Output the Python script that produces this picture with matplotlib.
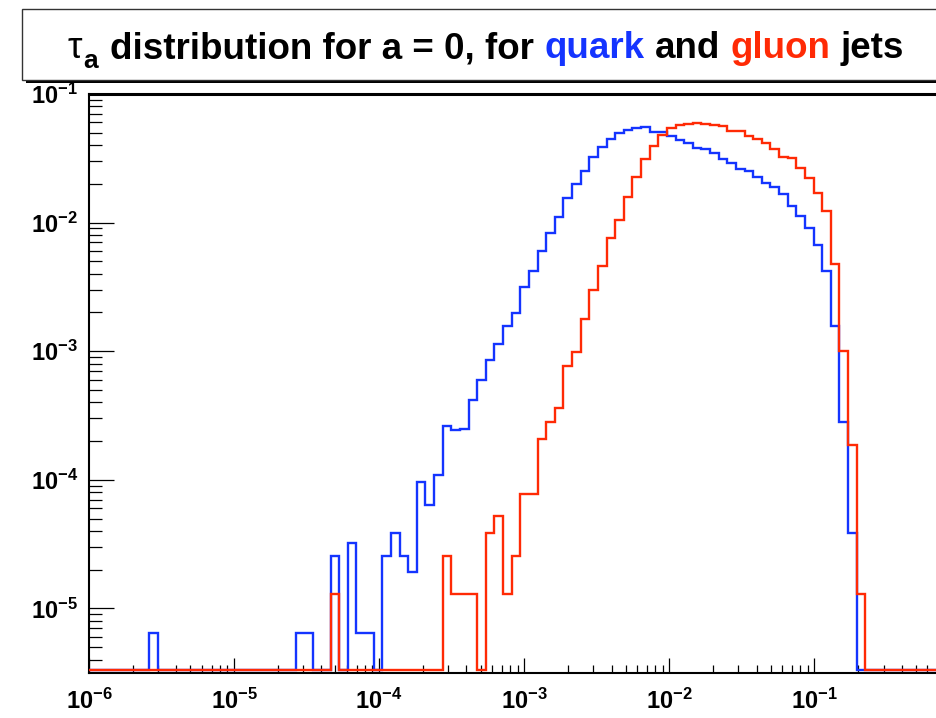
import numpy as np
import matplotlib
matplotlib.use('Agg')
import matplotlib.pyplot as plt
from matplotlib.patches import Rectangle
from matplotlib.ticker import LogLocator, FuncFormatter, NullFormatter

plt.rcParams['font.family'] = ['Liberation Sans', 'DejaVu Sans']
plt.rcParams['mathtext.fontset'] = 'custom'
plt.rcParams['mathtext.rm'] = 'Liberation Sans'
plt.rcParams['mathtext.bf'] = 'Liberation Sans:bold'
plt.rcParams['mathtext.it'] = 'Liberation Sans:italic'

W, H = 937, 718          # canvas in pixels (dpi 100)
BLUE = '#1434ff'
RED = '#ff2a05'

# tau_a histogram: 100 log-spaced bins starting at 1e-6
LOG_TAU_MIN = -6.0
BIN_DEX = 0.05946
N_BINS = 100

# normalised bin contents, quark jets
quark = [
    0, 0, 0, 0, 0, 0, 0, 6.4e-6, 0, 0,
    0, 0, 0, 0, 0, 0, 0, 0, 0, 0,
    0, 0, 0, 0, 6.4e-6, 6.4e-6, 0, 0, 2.56e-5, 0,
    3.2e-5, 6.4e-6, 6.4e-6, 0, 2.56e-5, 3.84e-5, 2.56e-5, 1.92e-5, 9.6e-5, 6.4e-5,
    1.09e-4, 2.64e-4, 2.46e-4, 2.5e-4, 4.2e-4, 6.0e-4, 8.6e-4, 1.14e-3, 1.56e-3, 1.98e-3,
    3.15e-3, 4.22e-3, 5.96e-3, 8.27e-3, 1.11e-2, 1.55e-2, 1.99e-2, 2.52e-2, 3.25e-2, 3.85e-2,
    4.44e-2, 4.94e-2, 5.25e-2, 5.41e-2, 5.5e-2, 5.09e-2, 5.05e-2, 4.73e-2, 4.39e-2, 4.13e-2,
    3.82e-2, 3.71e-2, 3.46e-2, 3.1e-2, 2.89e-2, 2.61e-2, 2.52e-2, 2.25e-2, 2.02e-2, 1.88e-2,
    1.66e-2, 1.35e-2, 1.13e-2, 9.1e-3, 6.71e-3, 4.22e-3, 1.56e-3, 2.8e-4, 3.84e-5, 0,
    0, 0, 0, 0, 0, 0, 0, 0, 0, 0,
]

# normalised bin contents, gluon jets
gluon = [
    0, 0, 0, 0, 0, 0, 0, 0, 0, 0,
    0, 0, 0, 0, 0, 0, 0, 0, 0, 0,
    0, 0, 0, 0, 0, 0, 0, 0, 1.29e-5, 0,
    0, 0, 0, 0, 0, 0, 0, 0, 0, 0,
    0, 2.56e-5, 1.29e-5, 1.29e-5, 1.29e-5, 0, 3.84e-5, 5.21e-5, 1.29e-5, 2.56e-5,
    7.69e-5, 7.69e-5, 2.06e-4, 2.82e-4, 3.62e-4, 7.62e-4, 9.86e-4, 1.79e-3, 3.0e-3, 4.63e-3,
    7.56e-3, 1.04e-2, 1.57e-2, 2.25e-2, 3.12e-2, 3.94e-2, 4.8e-2, 5.43e-2, 5.69e-2, 5.84e-2,
    5.98e-2, 5.8e-2, 5.74e-2, 5.64e-2, 5.15e-2, 5.15e-2, 4.74e-2, 4.47e-2, 4.13e-2, 3.71e-2,
    3.25e-2, 3.16e-2, 2.64e-2, 2.23e-2, 1.69e-2, 1.22e-2, 4.75e-3, 1.01e-3, 1.85e-4, 1.29e-5,
    0, 0, 0, 0, 0, 0, 0, 0, 0, 0,
]

Y_MIN, Y_MAX = 3.15e-6, 0.1
Y_FLOOR = 3.3e-6        # empty bins sit just above the x axis
X_MIN, X_MAX = 1e-6, 1.0

edges = 10 ** (LOG_TAU_MIN + BIN_DEX * np.arange(N_BINS + 1))

fig = plt.figure(figsize=(W / 100, H / 100), dpi=100)

# frame: pixel box of the pad (right edge runs off the canvas)
px_left, px_top, px_bottom, px_right = 89, 93.9, 673.0, 959.4
ax = fig.add_axes([px_left / W, (H - px_bottom) / H,
                   (px_right - px_left) / W, (px_bottom - px_top) / H])

for vals, col in [(quark, BLUE), (gluon, RED)]:
    v = np.maximum(np.asarray(vals, dtype=float), Y_FLOOR)
    ax.stairs(v, edges, baseline=None, color=col, lw=1.7, zorder=3, clip_on=False)

ax.set_xscale('log')
ax.set_yscale('log')
ax.set_xlim(X_MIN, X_MAX)
ax.set_ylim(Y_MIN, Y_MAX)

for side in ['left', 'bottom']:
    ax.spines[side].set_linewidth(1.5)
ax.spines['top'].set_linewidth(2.2)
ax.spines['right'].set_visible(False)

ax.xaxis.set_major_locator(LogLocator(base=10, numticks=20))
ax.xaxis.set_minor_locator(LogLocator(base=10, subs=np.arange(2, 10), numticks=100))
ax.yaxis.set_major_locator(LogLocator(base=10, numticks=20))
ax.yaxis.set_minor_locator(LogLocator(base=10, subs=np.arange(2, 10), numticks=100))


def pow_label(v, pos):
    # 10^0 sits past the visible end of the frame
    if v >= 1 or v < X_MIN * 0.99:
        return ''
    return r'$\mathbf{10^{%d}}$' % round(np.log10(v))


ax.xaxis.set_major_formatter(FuncFormatter(pow_label))
ax.yaxis.set_major_formatter(FuncFormatter(pow_label))
ax.xaxis.set_minor_formatter(NullFormatter())
ax.yaxis.set_minor_formatter(NullFormatter())

ax.tick_params(axis='both', which='both', direction='in', top=False, right=False,
               width=0.9, labelsize=17)
ax.tick_params(axis='x', which='major', length=11, pad=11)
ax.tick_params(axis='x', which='minor', length=5.8)
ax.tick_params(axis='y', which='major', length=18, pad=8)
ax.tick_params(axis='y', which='minor', length=9.4)

# title box with drop shadow
box_x0, box_y0, box_y1 = 22, 9, 80
shadow = Rectangle(((box_x0 + 4) / W, 1 - (box_y1 + 3) / H), (W + 50) / W,
                   (box_y1 - box_y0) / H, transform=fig.transFigure,
                   facecolor='black', edgecolor='none', zorder=1)
box = Rectangle((box_x0 / W, 1 - box_y1 / H), (W + 50) / W, (box_y1 - box_y0) / H,
                transform=fig.transFigure, facecolor='white', edgecolor='#333333',
                lw=1.0, zorder=2)
fig.patches.extend([shadow, box])

# multi-coloured title, pieces laid out left to right on one baseline
renderer = fig.canvas.get_renderer()
title_size = 26.5
probe_wide = fig.text(0, 0, 'a a', fontsize=title_size, fontweight='bold')
probe_tight = fig.text(0, 0, 'aa', fontsize=title_size, fontweight='bold')
space_px = (probe_wide.get_window_extent(renderer).width
            - probe_tight.get_window_extent(renderer).width)
probe_wide.remove()
probe_tight.remove()

pieces = [
    # text, colour, size, weight, drop below baseline (px), gap before (px)
    ('\u03c4', 'black', title_size, 'normal', 0, 0),
    ('a', 'black', 19, 'bold', 10, 1),
    ('distribution for a = 0, for', 'black', title_size, 'bold', 0, space_px + 2),
    ('quark', BLUE, title_size, 'bold', 0, space_px),
    ('and', 'black', title_size, 'bold', 0, space_px),
    ('gluon', RED, title_size, 'bold', 0, space_px),
    ('jets', 'black', title_size, 'bold', 0, space_px),
]
x_px, base_px = 68, 58.5
for text, col, size, weight, drop, gap in pieces:
    x_px += gap
    t = fig.text(x_px / W, 1 - (base_px + drop) / H, text, color=col, fontsize=size,
                 fontweight=weight, ha='left', va='baseline', zorder=3)
    x_px = t.get_window_extent(renderer).x1

fig.savefig('out.png', dpi=100)
